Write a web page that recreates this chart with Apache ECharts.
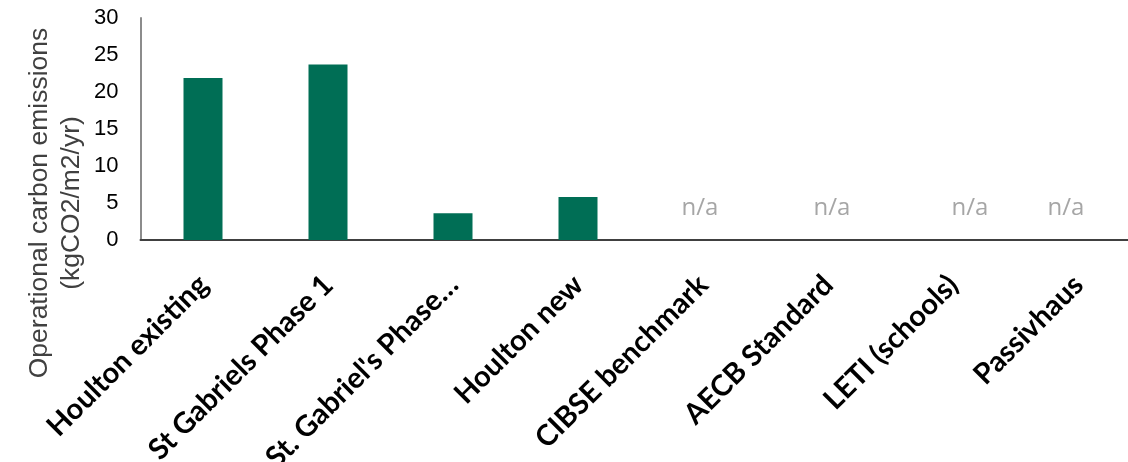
<!DOCTYPE html>
<html>
<head>
<meta charset="utf-8">
<script src="https://cdn.jsdelivr.net/npm/echarts@6/dist/echarts.min.js"></script>
<style>
html,body{margin:0;padding:0;background:#fff;}
#chart{width:1128px;height:462px;}
</style>
</head>
<body>
<div id="chart"></div>
<script>
const categories = ['Houlton existing','St Gabriels Phase 1','St. Gabriel\'s Phase\u2026','Houlton new','CIBSE benchmark','AECB Standard','LETI (schools)','Passivhaus'];
const emissions = [21.9, 23.7, 3.6, 5.8, 0, 0, 0, 0];
const valueLabels = ['', '', '', '', 'n/a', 'n/a', 'n/a', 'n/a'];
const yTicks = [0, 5, 10, 15, 20, 25, 30];
const yTitle = 'Operational carbon emissions\n(kgCO2/m2/yr)';

const labelOffsets = [0, 0, 0, 0, -3, 4, 17, -12];

const chart = echarts.init(document.getElementById('chart'), null, {renderer: 'canvas'});
chart.setOption({
  animation: false,
  backgroundColor: '#ffffff',
  grid: {left: 140.5, right: -12.5, top: 18, bottom: 222, containLabel: false, outerBoundsMode: 'none'},
  graphic: [{
    type: 'text',
    x: 56,
    y: 203,
    rotation: Math.PI / 2,
    style: {
      text: yTitle,
      fontFamily: 'Liberation Sans',
      fontSize: 26.5,
      lineHeight: 32,
      fill: '#404040',
      align: 'center',
      verticalAlign: 'middle'
    }
  }],
  xAxis: {
    type: 'category',
    data: categories,
    axisLine: {show: true, lineStyle: {color: '#404040', width: 2}},
    axisTick: {show: false},
    axisLabel: {
      rotate: 45,
      interval: 0,
      margin: 20,
      verticalAlign: 'top',
      padding: [0, 14, 0, 0],
      fontFamily: 'Lato',
      fontWeight: 'bold',
      fontSize: 29,
      color: '#000000'
    }
  },
  yAxis: {
    type: 'value',
    min: 0,
    max: 30,
    interval: 5,
    axisLine: {show: true, lineStyle: {color: '#8c8c8c', width: 2}},
    axisTick: {show: false},
    splitLine: {show: false},
    axisLabel: {
      fontFamily: 'Liberation Sans',
      fontSize: 22,
      color: '#000000',
      margin: 22,
      formatter: function (v) { return yTicks.indexOf(v) >= 0 ? String(v) : ''; }
    }
  },
  series: [{
    type: 'bar',
    barWidth: 39,
    itemStyle: {color: '#006e55'},
    data: emissions.map(function (v, i) {
      return {value: v, label: {offset: [labelOffsets[i], 0]}};
    }),
    label: {
      show: true,
      position: 'top',
      distance: 20,
      fontFamily: 'Open Sans',
      fontSize: 24,
      color: '#a6a6a6',
      formatter: function (p) { return valueLabels[p.dataIndex]; }
    }
  }]
});
</script>
</body>
</html>
